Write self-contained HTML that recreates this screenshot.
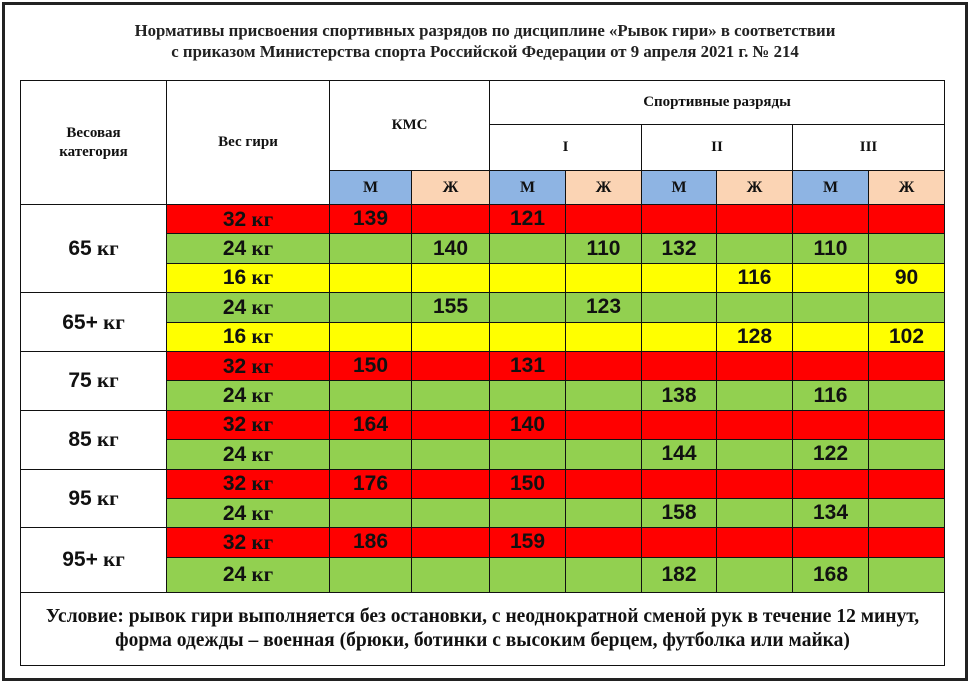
<!DOCTYPE html>
<html><head><meta charset="utf-8"><style>
html,body{margin:0;padding:0;background:#fff;}
body{width:970px;height:684px;position:relative;overflow:hidden;}
.frame{position:absolute;left:2px;top:2px;width:966px;height:679px;border:3px solid #222;box-sizing:border-box;}
.title{position:absolute;left:0;width:970px;top:20px;text-align:center;font-family:"Liberation Serif",serif;font-weight:bold;font-size:16.8px;line-height:21px;color:#222;}
table{position:absolute;left:20px;top:80px;border-collapse:collapse;table-layout:fixed;width:924px;}
td{border:1.5px solid #111;padding:0;text-align:center;vertical-align:middle;font-family:"Liberation Sans",sans-serif;font-weight:bold;font-size:21px;color:#111;overflow:hidden;white-space:nowrap;}
.s{font-family:"Liberation Serif",serif;font-size:15px;line-height:19px;}
.kg{font-family:"Liberation Serif",serif;}
.r{background:#ff0000;}
.g{background:#92d050;}
.y{background:#ffff00;}
.b{background:#8eb4e3;font-family:"Liberation Serif",serif;font-size:16px;}
.p{background:#fbd4b4;font-family:"Liberation Serif",serif;font-size:16px;}
.w{background:#fff;}
tr.d td{height:28.4px;}
.cond{height:72px;font-family:"Liberation Serif",serif;font-size:19.5px;line-height:24px;white-space:normal;}
</style></head><body>
<div class="frame"></div>
<div class="title">Нормативы присвоения спортивных разрядов по дисциплине «Рывок гири» в соответствии<br>с приказом Министерства спорта Российской Федерации от 9 апреля 2021 г. № 214</div>
<table>
<colgroup><col style="width:146px"><col style="width:163px"><col style="width:82px"><col style="width:78px"><col style="width:76px"><col style="width:76px"><col style="width:75px"><col style="width:76px"><col style="width:76px"><col style="width:76px"></colgroup>
<tr style="height:44px"><td class="s" rowspan="3">Весовая<br>категория</td><td class="s" rowspan="3">Вес гири</td><td class="s" colspan="2" rowspan="2">КМС</td><td class="s" colspan="6">Спортивные разряды</td></tr>
<tr style="height:46px"><td class="s" colspan="2">I</td><td class="s" colspan="2">II</td><td class="s" colspan="2">III</td></tr>
<tr style="height:34px"><td class="b">М</td><td class="p">Ж</td><td class="b">М</td><td class="p">Ж</td><td class="b">М</td><td class="p">Ж</td><td class="b">М</td><td class="p">Ж</td></tr>
<tr class="d"><td class="cat w" rowspan="3">65<span class="kg"> кг</span></td><td class="r">32<span class="kg"> кг</span></td><td class="r">139</td><td class="r"></td><td class="r">121</td><td class="r"></td><td class="r"></td><td class="r"></td><td class="r"></td><td class="r"></td></tr>
<tr class="d"><td class="g">24<span class="kg"> кг</span></td><td class="g"></td><td class="g">140</td><td class="g"></td><td class="g">110</td><td class="g">132</td><td class="g"></td><td class="g">110</td><td class="g"></td></tr>
<tr class="d"><td class="y">16<span class="kg"> кг</span></td><td class="y"></td><td class="y"></td><td class="y"></td><td class="y"></td><td class="y"></td><td class="y">116</td><td class="y"></td><td class="y">90</td></tr>
<tr class="d"><td class="cat w" rowspan="2">65+<span class="kg"> кг</span></td><td class="g">24<span class="kg"> кг</span></td><td class="g"></td><td class="g">155</td><td class="g"></td><td class="g">123</td><td class="g"></td><td class="g"></td><td class="g"></td><td class="g"></td></tr>
<tr class="d"><td class="y">16<span class="kg"> кг</span></td><td class="y"></td><td class="y"></td><td class="y"></td><td class="y"></td><td class="y"></td><td class="y">128</td><td class="y"></td><td class="y">102</td></tr>
<tr class="d"><td class="cat w" rowspan="2">75<span class="kg"> кг</span></td><td class="r">32<span class="kg"> кг</span></td><td class="r">150</td><td class="r"></td><td class="r">131</td><td class="r"></td><td class="r"></td><td class="r"></td><td class="r"></td><td class="r"></td></tr>
<tr class="d"><td class="g">24<span class="kg"> кг</span></td><td class="g"></td><td class="g"></td><td class="g"></td><td class="g"></td><td class="g">138</td><td class="g"></td><td class="g">116</td><td class="g"></td></tr>
<tr class="d"><td class="cat w" rowspan="2">85<span class="kg"> кг</span></td><td class="r">32<span class="kg"> кг</span></td><td class="r">164</td><td class="r"></td><td class="r">140</td><td class="r"></td><td class="r"></td><td class="r"></td><td class="r"></td><td class="r"></td></tr>
<tr class="d"><td class="g">24<span class="kg"> кг</span></td><td class="g"></td><td class="g"></td><td class="g"></td><td class="g"></td><td class="g">144</td><td class="g"></td><td class="g">122</td><td class="g"></td></tr>
<tr class="d"><td class="cat w" rowspan="2">95<span class="kg"> кг</span></td><td class="r">32<span class="kg"> кг</span></td><td class="r">176</td><td class="r"></td><td class="r">150</td><td class="r"></td><td class="r"></td><td class="r"></td><td class="r"></td><td class="r"></td></tr>
<tr class="d"><td class="g">24<span class="kg"> кг</span></td><td class="g"></td><td class="g"></td><td class="g"></td><td class="g"></td><td class="g">158</td><td class="g"></td><td class="g">134</td><td class="g"></td></tr>
<tr class="d"><td class="cat w" rowspan="2">95+<span class="kg"> кг</span></td><td class="r">32<span class="kg"> кг</span></td><td class="r">186</td><td class="r"></td><td class="r">159</td><td class="r"></td><td class="r"></td><td class="r"></td><td class="r"></td><td class="r"></td></tr>
<tr class="d"><td class="g" style="height:34px">24<span class="kg"> кг</span></td><td class="g"></td><td class="g"></td><td class="g"></td><td class="g"></td><td class="g">182</td><td class="g"></td><td class="g">168</td><td class="g"></td></tr>
<tr><td class="cond" colspan="10">Условие: рывок гири выполняется без остановки, с неоднократной сменой рук в течение 12 минут,<br>форма одежды – военная (брюки, ботинки с высоким берцем, футболка или майка)</td></tr>
</table>
</body></html>
